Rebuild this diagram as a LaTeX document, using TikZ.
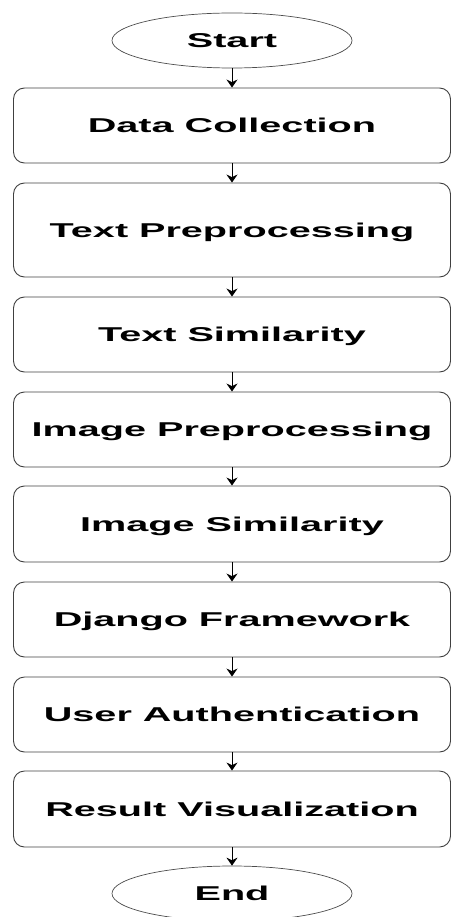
\documentclass[tikz,border=0pt]{standalone}
\usepackage{fontspec}
\setmainfont{Liberation Sans}
\usetikzlibrary{shapes.geometric,arrows.meta}
\newcommand{\wideword}[1]{\scalebox{1.98}[1]{#1}}
\tikzset{
  stepbox/.style={draw=black!75, line width=0.9pt, rounded corners=11pt,
    minimum width=437pt, inner sep=0pt, text height=14.3pt, text depth=0pt,
    font=\fontsize{20}{24}\selectfont\bfseries},
  terminal/.style={draw=black!70, line width=0.7pt, ellipse,
    minimum width=240pt, minimum height=55pt, inner sep=0pt,
    text height=14.3pt, text depth=0pt,
    font=\fontsize{20}{24}\selectfont\bfseries},
  flow/.style={-{Stealth[length=8pt,width=11pt]}, line width=1pt, black}
}
\begin{document}
\begin{tikzpicture}[x=1pt,y=-1pt]
\useasboundingbox (0,0) rectangle (451,917);
\node[terminal] (start) at (232,40.5) {\wideword{Start}};
\node[stepbox, minimum height=75pt] (dc) at (232,125.5) {\wideword{Data Collection}};
\node[stepbox, minimum height=94pt] (tp) at (232,230) {\wideword{Text Preprocessing}};
\node[stepbox, minimum height=75pt] (ts) at (232,334.5) {\wideword{Text Similarity}};
\node[stepbox, minimum height=75pt] (ip) at (232,429.5) {\wideword{Image Preprocessing}};
\node[stepbox, minimum height=76pt] (is) at (232,524) {\wideword{Image Similarity}};
\node[stepbox, minimum height=75pt] (dj) at (232,619.5) {\wideword{Django Framework}};
\node[stepbox, minimum height=75pt] (ua) at (232,714.5) {\wideword{User Authentication}};
\node[stepbox, minimum height=76pt] (rv) at (232,809) {\wideword{Result Visualization}};
\node[terminal] (end) at (232,893.5) {\wideword{End}};
\draw[flow] (start) -- (dc);
\draw[flow] (dc) -- (tp);
\draw[flow] (tp) -- (ts);
\draw[flow] (ts) -- (ip);
\draw[flow] (ip) -- (is);
\draw[flow] (is) -- (dj);
\draw[flow] (dj) -- (ua);
\draw[flow] (ua) -- (rv);
\draw[flow] (rv) -- (end);
\end{tikzpicture}
\end{document}
